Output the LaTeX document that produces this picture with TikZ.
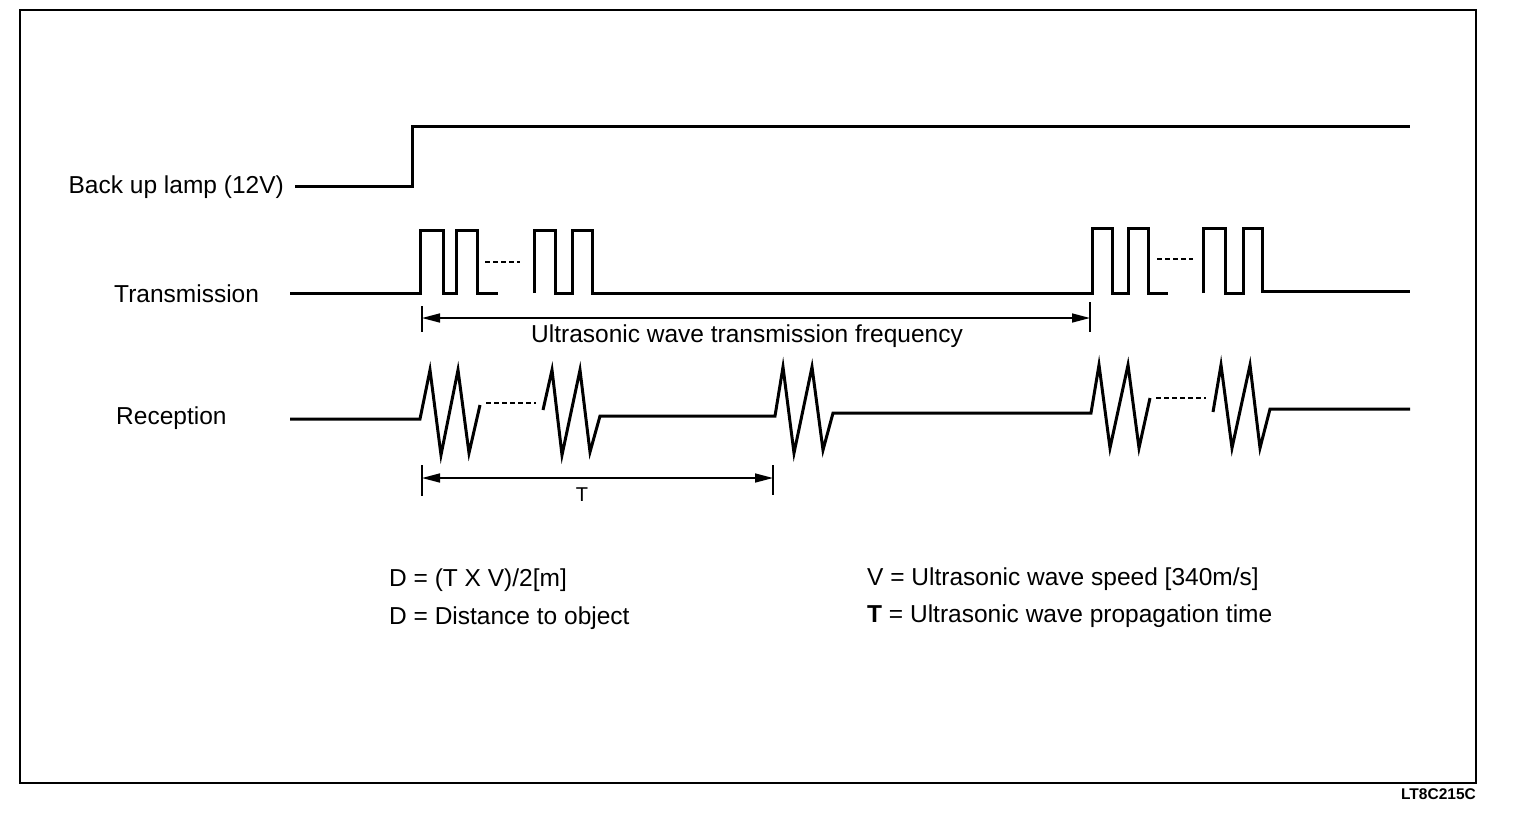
\documentclass[tikz,border=0pt]{standalone}
\usepackage{fontspec}
\setmainfont{Liberation Sans}
\usetikzlibrary{arrows.meta}
\begin{document}
\begin{tikzpicture}[x=1pt,y=-1pt,
  wave/.style={line width=3pt,line join=miter},
  dots/.style={line width=2.5pt,dash pattern=on 5pt off 3pt},
  dim/.style={line width=1.6pt,{Triangle[length=18pt,width=9pt]}-{Triangle[length=18pt,width=9pt]}},
  tick/.style={line width=2pt},
  lbl/.style={inner sep=0pt,font=\fontsize{24.5}{28}\selectfont}]
\useasboundingbox (0,0) rectangle (1520,812);
% frame
\draw[line width=2pt] (20,10) rectangle (1476,783);
\node[inner sep=0pt,anchor=east,font=\bfseries\fontsize{15.5}{18}\selectfont] (code) at (1476,794) {LT8C215C};
% labels
\node[lbl,anchor=east] (lamp) at (284,187) {Back up lamp (12V)};
\node[lbl,anchor=west] (tx) at (114,294) {Transmission};
\node[lbl,anchor=west] (rx) at (116,418) {Reception};
% backup lamp
\draw[wave] (295,186) -- (412,186) -- (412,126) -- (1410,126);
% transmission group 1
\draw[wave] (290,293) -- (420,293) -- (420,230) -- (443,230) -- (443,293) -- (456,293) -- (456,230) -- (477,230) -- (477,293) -- (498,293);
\draw[dots] (485,262) -- (520,262);
\draw[wave] (534,293) -- (534,230) -- (555,230) -- (555,293) -- (572,293) -- (572,230) -- (592,230) -- (592,293) -- (1092,293)
  -- (1092,228) -- (1112,228) -- (1112,293) -- (1128,293) -- (1128,228) -- (1148,228) -- (1148,293) -- (1168,293);
\draw[dots] (1157,259) -- (1193,259);
\draw[wave] (1203,293) -- (1203,228) -- (1225,228) -- (1225,293) -- (1243,293) -- (1243,228) -- (1262,228) -- (1262,291) -- (1410,291);
% transmission frequency dimension
\coordinate (f1) at (422,318);
\coordinate (f2) at (1090,318);
\draw[tick] (422,306) -- (422,332);
\draw[tick] (1090,302) -- (1090,332);
\draw[dim] (f1) -- (f2);
\node[lbl] (freq) at (747,336) {Ultrasonic wave transmission frequency};
% reception
\draw[wave] (290,419) -- (420,419) -- (430,370) -- (441,455) -- (458,370) -- (469,453) -- (480,405);
\draw[dots] (486,403) -- (536,403);
\draw[wave] (543,410) -- (552,370) -- (562,455) -- (580,370) -- (590,452) -- (600,416) -- (775,416)
  -- (783,367) -- (794,453) -- (812,367) -- (823,450) -- (833,413) -- (1091,413)
  -- (1099,365) -- (1110,448) -- (1128,365) -- (1139,448) -- (1150,398);
\draw[dots] (1156,398) -- (1206,398);
\draw[wave] (1213,412) -- (1221,365) -- (1232,448) -- (1250,365) -- (1260,448) -- (1270,409) -- (1410,409);
% T dimension
\coordinate (t1) at (422,478);
\coordinate (t2) at (773,478);
\draw[tick] (422,465) -- (422,496);
\draw[tick] (773,465) -- (773,495);
\draw[dim] (t1) -- (t2);
\node[inner sep=0pt,font=\fontsize{20}{22}\selectfont] (tl) at (582,495) {T};
% formulas
\node[lbl,anchor=west] (d1) at (389,580) {D = (T X V)/2[m]};
\node[lbl,anchor=west] (d2) at (389,618) {D = Distance to object};
\node[lbl,anchor=west] (v1) at (867,579) {V = Ultrasonic wave speed [340m/s]};
\node[lbl,anchor=west] (v2) at (867,616) {\textbf{T} = Ultrasonic wave propagation time};
\end{tikzpicture}
\end{document}
